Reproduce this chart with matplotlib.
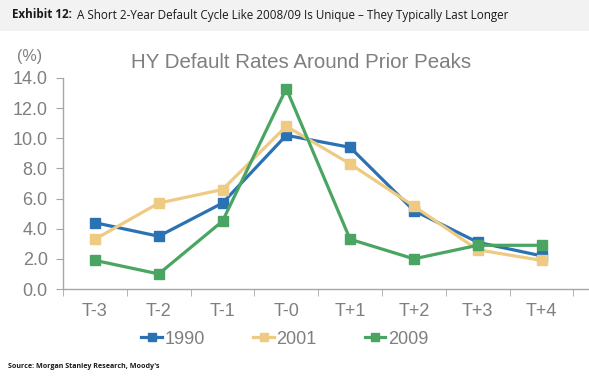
import matplotlib
matplotlib.use("Agg")
import matplotlib.pyplot as plt
from matplotlib.patches import Rectangle
import numpy as np

categories = ["T-3", "T-2", "T-1", "T-0", "T+1", "T+2", "T+3", "T+4"]
s1990 = [4.4, 3.5, 5.7, 10.2, 9.4, 5.2, 3.1, 2.2]
s2001 = [3.3, 5.7, 6.6, 10.8, 8.3, 5.5, 2.6, 1.9]
s2009 = [1.9, 1.0, 4.5, 13.3, 3.3, 2.0, 2.9, 2.9]
series = [("1990", s1990, "#2a72b4"), ("2001", s2001, "#efca82"), ("2009", s2009, "#4aa562")]
yticks = [0, 2, 4, 6, 8, 10, 12, 14]

plt.rcParams['font.family'] = ['Liberation Sans', 'DejaVu Sans']
W, H = 589, 378
fig = plt.figure(figsize=(W/100, H/100), dpi=100)

# header band
fig.patches.append(Rectangle((0, 1 - 31/H), 1, 31/H, transform=fig.transFigure,
                             facecolor="#f2f2f2", edgecolor="none", zorder=0))
t1 = fig.text(12/W, 1 - 15/H, "Exhibit 12:", fontsize=8.4, va="center", ha="left",
              color="#1a1a1a", family="Open Sans", weight="bold")
fig.canvas.draw()
bb = t1.get_window_extent()
fig.text((bb.x1 + 5)/W, 1 - 15/H,
         "A Short 2-Year Default Cycle Like 2008/09 Is Unique – They Typically Last Longer",
         fontsize=8.4, va="center", ha="left", color="#1a1a1a", family="Open Sans")
fig.text(8/W, 1 - 366/H, "Source: Morgan Stanley Research, Moody's", fontsize=5.1,
         va="center", ha="left", color="#1a1a1a", family="Open Sans", weight="bold")

left, right, top, bottom = 63, 589, 78, 289
ax = fig.add_axes([left/W, 1 - bottom/H, (right-left)/W, (bottom-top)/H])
x = np.arange(len(categories))
for name, vals, col in series:
    ax.plot(x, vals, color=col, lw=2.3, marker="s", ms=7.5, label=name, zorder=3)

ax.set_ylim(0, 14)
ax.set_xlim(-0.5, -0.5 + (right-left)/63.8)
ax.set_yticks(yticks)
ax.set_yticklabels([f"{v:.1f}" for v in yticks])
ax.set_xticks(x)
ax.set_xticklabels(categories)
ax.set_xticks(np.arange(-0.5, len(categories)), minor=True)
ax.tick_params(axis="x", which="major", length=0, pad=10, labelsize=13, labelcolor="#7f7f7f")
ax.tick_params(axis="x", which="minor", length=5, color="#a6a6a6", direction="out")
ax.tick_params(axis="y", length=5, color="#a6a6a6", labelsize=13, labelcolor="#7f7f7f", pad=6)
for s in ["top", "right"]:
    ax.spines[s].set_visible(False)
for s in ["left", "bottom"]:
    ax.spines[s].set_color("#a6a6a6")
    ax.spines[s].set_linewidth(1.0)

fig.text(301/W, 1 - 62/H, "HY Default Rates Around Prior Peaks", fontsize=14.8,
         color="#7f7f7f", ha="center", va="center")
fig.text(30/W, 1 - 57/H, "(%)", fontsize=11.5, color="#7f7f7f", ha="center", va="center")

leg = fig.legend(loc="center", bbox_to_anchor=(285/W, 1 - 339/H), ncol=3, frameon=False,
                 fontsize=13, handlelength=1.15, columnspacing=2.65, handletextpad=0.15,
                 markerscale=0.75, labelcolor="#7f7f7f", borderpad=0, borderaxespad=0)

fig.savefig("out.png", dpi=100)
